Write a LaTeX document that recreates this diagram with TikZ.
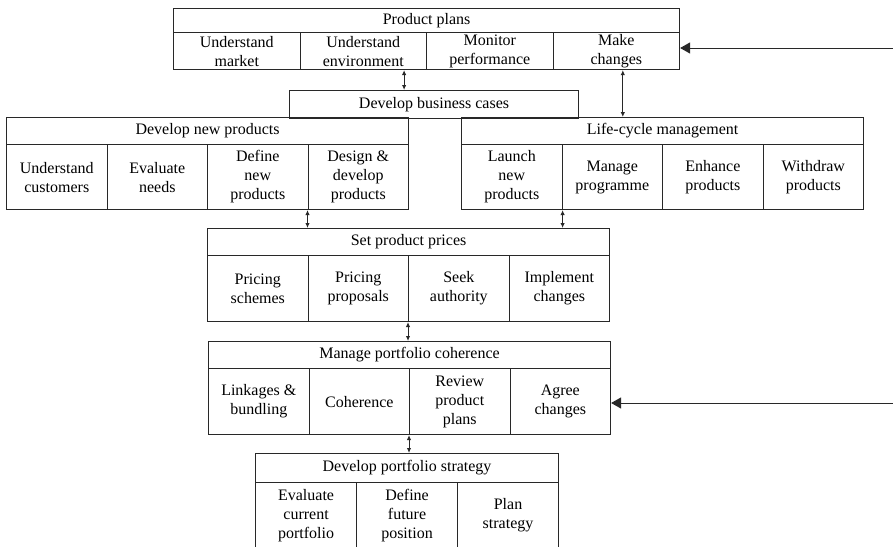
\documentclass[tikz,border=0pt]{standalone}
\usepackage{fontspec}
\setmainfont{Liberation Serif}
\usepackage{tikz}
\usetikzlibrary{arrows.meta}
\definecolor{boxline}{RGB}{40, 40, 40}
\tikzset{
    headbox/.style={rectangle, draw=boxline, line width=1.1pt, anchor=north west, inner sep=0pt,
                    align=center, font=\fontsize{16}{19}\selectfont},
    cellbox/.style={rectangle, draw=boxline, line width=1.1pt, anchor=north west, inner sep=0pt,
                    align=center, font=\fontsize{16}{19}\selectfont},
    dblarrow/.style={{Latex[length=5pt,width=4.5pt]}-{Latex[length=5pt,width=4.5pt]}, line width=1pt, boxline},
    feedarrow/.style={-{Triangle[length=10pt,width=11pt]}, line width=1pt, boxline},
}

\begin{document}
\begin{tikzpicture}[x=1pt, y=-1pt]
    \useasboundingbox (0,0) rectangle (893,546);

    % Product plans
    \node[headbox, minimum width=506pt, minimum height=24pt] (pptitle) at (173,8) {Product plans};
    \node[cellbox, minimum width=126.5pt, minimum height=37pt] (ppmarket) at (173,32) {Understand\\market};
    \node[cellbox, minimum width=126.5pt, minimum height=37pt] (ppenv) at (299.5,32) {Understand\\environment};
    \node[cellbox, minimum width=126.5pt, minimum height=37pt] (ppmonitor) at (426,32) {Monitor\\performance};
    \node[cellbox, minimum width=126.5pt, minimum height=37pt] (ppchanges) at (552.5,32) {Make\\changes};

    % Develop business cases
    \node[headbox, minimum width=289pt, minimum height=28pt] (dbc) at (289,90) {Develop business cases};

    % Develop new products
    \node[headbox, minimum width=402pt, minimum height=27pt] (dnptitle) at (6,117) {Develop new products};
    \node[cellbox, minimum width=100.5pt, minimum height=65pt] (dnpcust) at (6,144) {Understand\\customers};
    \node[cellbox, minimum width=100.5pt, minimum height=65pt] (dnpneeds) at (106.5,144) {Evaluate\\needs};
    \node[cellbox, minimum width=100.5pt, minimum height=65pt] (dnpdefine) at (207,144) {Define\\new\\products};
    \node[cellbox, minimum width=100.5pt, minimum height=65pt] (dnpdesign) at (307.5,144) {Design \&\\develop\\products};

    % Life-cycle management
    \node[headbox, minimum width=402pt, minimum height=27pt] (lcmtitle) at (461,117) {Life-cycle management};
    \node[cellbox, minimum width=100.5pt, minimum height=65pt] (lcmlaunch) at (461,144) {Launch\\new\\products};
    \node[cellbox, minimum width=100.5pt, minimum height=65pt] (lcmprog) at (561.5,144) {Manage\\programme};
    \node[cellbox, minimum width=100.5pt, minimum height=65pt] (lcmenhance) at (662,144) {Enhance\\products};
    \node[cellbox, minimum width=100.5pt, minimum height=65pt] (lcmwithdraw) at (762.5,144) {Withdraw\\products};

    % Set product prices
    \node[headbox, minimum width=402pt, minimum height=27pt] (spptitle) at (207,228) {Set product prices};
    \node[cellbox, minimum width=100.5pt, minimum height=66pt] (sppschemes) at (207,255) {Pricing\\schemes};
    \node[cellbox, minimum width=100.5pt, minimum height=66pt] (sppproposals) at (307.5,255) {Pricing\\proposals};
    \node[cellbox, minimum width=100.5pt, minimum height=66pt] (sppauthority) at (408,255) {Seek\\authority};
    \node[cellbox, minimum width=100.5pt, minimum height=66pt] (sppimplement) at (508.5,255) {Implement\\changes};

    % Manage portfolio coherence
    \node[headbox, minimum width=402pt, minimum height=27pt] (mpctitle) at (208,341) {Manage portfolio coherence};
    \node[cellbox, minimum width=100.5pt, minimum height=66pt] (mpclink) at (208,368) {Linkages \&\\bundling};
    \node[cellbox, minimum width=100.5pt, minimum height=66pt] (mpccoh) at (308.5,368) {Coherence};
    \node[cellbox, minimum width=100.5pt, minimum height=66pt] (mpcreview) at (409,368) {Review\\product\\plans};
    \node[cellbox, minimum width=100.5pt, minimum height=66pt] (mpcagree) at (509.5,368) {Agree\\changes};

    % Develop portfolio strategy
    \node[headbox, minimum width=303pt, minimum height=29pt] (dpstitle) at (255,453) {Develop portfolio strategy};
    \node[cellbox, minimum width=101pt, minimum height=66pt] (dpseval) at (255,482) {Evaluate\\current\\portfolio};
    \node[cellbox, minimum width=101pt, minimum height=66pt] (dpsdefine) at (356,482) {Define\\future\\position};
    \node[cellbox, minimum width=101pt, minimum height=66pt] (dpsplan) at (457,482) {Plan\\strategy};

    % Links between the stages
    \draw[dblarrow] ([xshift=-23pt]ppenv.south east) -- ([xshift=-23pt]ppenv.south east |- dbc.north);
    \draw[dblarrow] ([xshift=6.5pt]ppchanges.south) -- ([xshift=6.5pt]ppchanges.south |- lcmtitle.north);
    \draw[dblarrow] (dnpdesign.south west) -- (dnpdesign.south west |- spptitle.north);
    \draw[dblarrow] (lcmlaunch.south east) -- (lcmlaunch.south east |- spptitle.north);
    \draw[dblarrow] (sppauthority.south west) -- (sppauthority.south west |- mpctitle.north);
    \draw[dblarrow] (mpcreview.south west) -- (mpcreview.south west |- dpstitle.north);

    % Inputs from the right
    \coordinate (inplans) at (893,48);
    \coordinate (incoh) at (893,403);
    \draw[feedarrow] (inplans) -- (inplans -| ppchanges.east);
    \draw[feedarrow] (incoh) -- (incoh -| mpcagree.east);
\end{tikzpicture}
\end{document}
